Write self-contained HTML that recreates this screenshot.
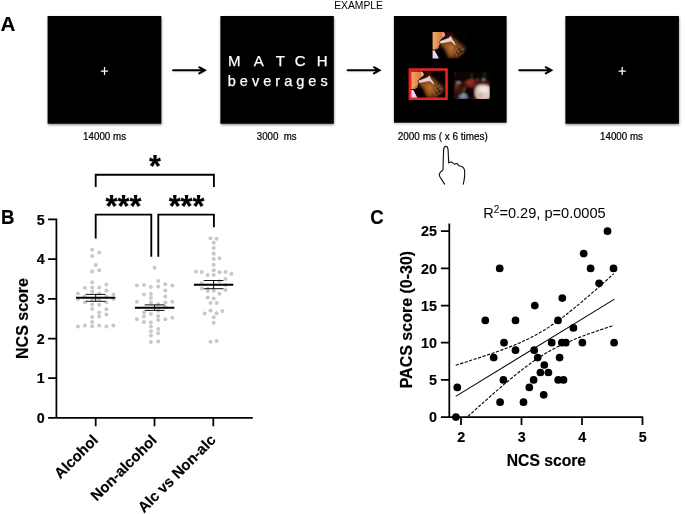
<!DOCTYPE html>
<html><head><meta charset="utf-8"><title>Figure</title>
<style>
html,body{margin:0;padding:0;background:#fff;}
svg{display:block;}
text{font-family:"Liberation Sans",Arial,Helvetica,sans-serif;}
.b{font-weight:bold;stroke:#000;stroke-width:0.18px;}
</style></head><body>
<svg width="685" height="514" viewBox="0 0 685 514">
<rect width="685" height="514" fill="#fff"/>
<defs>
<filter id="bl" x="-20%" y="-20%" width="140%" height="140%"><feGaussianBlur stdDeviation="0.85"/></filter>
<filter id="bs" x="-20%" y="-20%" width="140%" height="140%"><feGaussianBlur stdDeviation="0.4"/></filter>
<filter id="sh" x="-10%" y="-10%" width="120%" height="120%"><feGaussianBlur stdDeviation="0.9"/></filter>
<clipPath id="cb"><rect x="0" y="0" width="34" height="26.6"/></clipPath>
<linearGradient id="fg" x1="0" y1="0" x2="1" y2="0"><stop offset="0" stop-color="#f6b270"/><stop offset="0.45" stop-color="#e4924e"/><stop offset="1" stop-color="#c87038"/></linearGradient>
<linearGradient id="gg" x1="0" y1="0" x2="1" y2="1"><stop offset="0" stop-color="#84481a"/><stop offset="0.5" stop-color="#7c4018"/><stop offset="1" stop-color="#48220e"/></linearGradient>
<g id="beer">
<rect x="0" y="0" width="34" height="26.6" fill="#050101"/>
<g clip-path="url(#cb)">
<g filter="url(#bl)">
<polygon points="12,0 19,0 22,5 17,6 13,5" fill="#2c0e08"/>
<polygon points="7.6,9.9 18.5,4.8 23.5,7.6 33.6,15.7 32.9,18.8 30.5,22.4 25.1,26.6 15.7,26.6 15,24.3 11.8,17.3 8.3,13.8" fill="url(#gg)"/>
<polygon points="12,12 19,10.5 23,15 22.5,21 19,24 16.5,22.5 13.8,17" fill="#9c5a24"/>
<polygon points="16,13.5 19.5,13 21,17.5 18.5,20" fill="#b87030"/>
<polygon points="24.5,9.5 33,16 31,21 26.5,25.5 25,21 27,16" fill="#3a1a0c"/>
</g>
<g filter="url(#bs)">
<polygon points="-2,-2 11.1,-2 11.7,1 12.8,3.1 11.9,4.8 10,6.1 7.8,8 6.8,9.6 7.2,11.6 6.7,13.6 6,16.1 3.6,17.6 -2,17.6" fill="url(#fg)"/>
<polygon points="4.2,15.6 6.5,12.6 5.6,16.1 3.3,17.4 1.5,17.4" fill="#b46a36"/>
<polygon points="9.8,0.5 11.1,0 12.6,3.1 10.8,4.8 9.4,3.6" fill="#f0a090"/>
<polygon points="5.8,9.3 7.2,9 7,11 5.9,10.6" fill="#c04838"/>
<polygon points="7.3,9.4 11.8,7.6 16.1,6.1 18.3,4.2 19.5,7.2 22.2,10.8 23.2,14 21,11.8 18.6,9.6 11.8,10.8 7.8,11.6" fill="#eccad6"/>
<polygon points="-2,18.2 2.1,18.7 4,22 6,26.2 6,29 -2,29" fill="#eed2f6"/>
<path d="M24.5,12 L30,19 M23,15.5 L27.5,22.5 M28,14 L31.5,18.5 M21.5,19 L25,24.5" stroke="#b08858" stroke-width="0.6" fill="none"/>
<path d="M23,17 L29,13 M24.5,20.5 L31,16.5 M26,23.5 L31.5,20" stroke="#a07040" stroke-width="0.5" fill="none"/>
</g>
</g>
</g>
</defs>

<g id="panelA">
<text transform="translate(0.55,31.2) scale(1.07,1)" class="b" font-size="19.3">A</text>
<text x="334.2" y="9" font-size="10.7" textLength="48.8" lengthAdjust="spacingAndGlyphs" fill="#000">EXAMPLE</text>
<rect x="48.0" y="17.4" width="113.7" height="107.7" fill="#333" opacity="0.55" filter="url(#sh)"/>
<rect x="47.6" y="16" width="113.7" height="107.7" fill="#000"/>
<rect x="220.8" y="17.4" width="113.4" height="107.7" fill="#333" opacity="0.55" filter="url(#sh)"/>
<rect x="220.4" y="16" width="113.4" height="107.7" fill="#000"/>
<rect x="394.3" y="17.4" width="112.7" height="106.7" fill="#333" opacity="0.25" filter="url(#sh)"/>
<rect x="393.9" y="16" width="112.7" height="106.7" fill="#000"/>
<rect x="565.8" y="17.4" width="113.5" height="107.7" fill="#333" opacity="0.55" filter="url(#sh)"/>
<rect x="565.4" y="16" width="113.5" height="107.7" fill="#000"/>
<path d="M100.9,71.05 H108.1 M104.5,67 V75.1" stroke="#fff" stroke-width="1.25" fill="none"/>
<path d="M618.6,71.05 H625.8000000000001 M622.2,67 V75.1" stroke="#fff" stroke-width="1.25" fill="none"/>
<path d="M173.4,71 H204.9 M199.4,67.9 L205.20000000000002,71 L199.4,74.1" stroke="#888" stroke-width="1.7" fill="none" stroke-linecap="round" stroke-linejoin="miter" opacity="0.35" filter="url(#sh)"/>
<path d="M173,70.25 H204.4 M199.20000000000002,67.2 L204.9,70.3 L199.20000000000002,73.4" stroke="#000" stroke-width="1.9" fill="none" stroke-linecap="round" stroke-linejoin="miter"/>
<path d="M348.0,71 H379.6 M374.1,67.9 L379.90000000000003,71 L374.1,74.1" stroke="#888" stroke-width="1.7" fill="none" stroke-linecap="round" stroke-linejoin="miter" opacity="0.35" filter="url(#sh)"/>
<path d="M347.6,70.25 H379.1 M373.90000000000003,67.2 L379.6,70.3 L373.90000000000003,73.4" stroke="#000" stroke-width="1.9" fill="none" stroke-linecap="round" stroke-linejoin="miter"/>
<path d="M519.6999999999999,71 H551.4 M545.9,67.9 L551.6999999999999,71 L545.9,74.1" stroke="#888" stroke-width="1.7" fill="none" stroke-linecap="round" stroke-linejoin="miter" opacity="0.35" filter="url(#sh)"/>
<path d="M519.3,70.25 H550.9 M545.6999999999999,67.2 L551.4,70.3 L545.6999999999999,73.4" stroke="#000" stroke-width="1.9" fill="none" stroke-linecap="round" stroke-linejoin="miter"/>
<text y="66.1" font-size="15" fill="#fff" stroke="#fff" stroke-width="0.25" x="227.95 253.8 275.72 294.68 316.68">MATCH</text>
<text x="227.7" y="85.5" font-size="14.5" fill="#fff" stroke="#fff" stroke-width="0.25" textLength="100" lengthAdjust="spacing">beverages</text>
<text x="83.1" y="140.1" font-size="10.2" fill="#000" stroke="#000" stroke-width="0.22" textLength="43" lengthAdjust="spacingAndGlyphs">14000 ms</text>
<text x="256.8" y="140.1" font-size="10.2" fill="#000" stroke="#000" stroke-width="0.22" textLength="39.7" lengthAdjust="spacingAndGlyphs" xml:space="preserve">3000  ms</text>
<text x="397.8" y="140.1" font-size="10.2" fill="#000" stroke="#000" stroke-width="0.22" textLength="90" lengthAdjust="spacingAndGlyphs">2000 ms ( x 6 times)</text>
<text x="600" y="140.1" font-size="10.2" fill="#000" stroke="#000" stroke-width="0.22" textLength="43" lengthAdjust="spacingAndGlyphs">14000 ms</text>
<use href="#beer" x="432.6" y="31.9"/>
<use href="#beer" x="411.2" y="71.4"/>
<rect x="409.85" y="69.55" width="36.7" height="29.2" fill="none" stroke="#ee2222" stroke-width="2.5"/>
<g transform="translate(453.9,72)">
<clipPath id="cp"><rect width="35.9" height="27"/></clipPath>
<rect width="35.9" height="27" fill="#0e0303"/>
<g clip-path="url(#cp)"><g filter="url(#bl)">
<rect x="-2" y="8.5" width="40" height="22" fill="#2a0c0a"/>
<ellipse cx="4" cy="17" rx="5" ry="4" fill="#3e1410"/>
<ellipse cx="5" cy="11" rx="4" ry="2" fill="#38100e"/>
<ellipse cx="17.3" cy="11" rx="6" ry="4.2" fill="#7c2420"/>
<ellipse cx="16.5" cy="9.6" rx="4" ry="1.8" fill="#96302a"/>
<ellipse cx="28" cy="10.8" rx="8" ry="2.4" fill="#4a1612"/>
<ellipse cx="16" cy="20.5" rx="5" ry="5.5" fill="#0c0202"/>
<rect x="21.3" y="12.8" width="15.5" height="15" rx="5.5" fill="#e2ccc2"/>
<ellipse cx="30" cy="17.5" rx="4.4" ry="3.2" fill="#f2e6e0"/>
<ellipse cx="26" cy="23" rx="3" ry="2.6" fill="#cdb4ac"/>
<ellipse cx="9.3" cy="24.8" rx="4.4" ry="2.4" fill="#767e9e"/>
<ellipse cx="9.8" cy="22.8" rx="2" ry="1.3" fill="#98b0c0"/>
<path d="M11,15 L9.5,20" stroke="#a08848" stroke-width="0.7"/>
<rect x="17.3" y="1.5" width="1" height="5" fill="#24703a"/>
<rect x="30.2" y="0.6" width="1" height="4" fill="#24703a"/>
<rect x="28.6" y="6.3" width="2.4" height="1.6" fill="#e8e0a0"/>
<rect x="23" y="6.5" width="1.2" height="1.4" fill="#c09050"/>
<rect x="3" y="10" width="3" height="1.2" fill="#e0d0d0"/>
<rect x="2.5" y="12" width="1.2" height="4" fill="#50705a"/>
<rect x="0.3" y="0.5" width="1.6" height="1.4" fill="#555"/>
</g></g></g>
<path d="M444.6,184.1 L439.6,176.2 Q438.6,174.2 440.4,172.2 L443,169.8 L443.6,150 Q443.9,146.3 445.8,146.3 Q447.8,146.4 448.1,150 L448.7,162.9 Q450.5,161.6 452.3,162.3 Q453.6,164.2 454.5,164.3 Q455.8,163.2 457.1,163.6 Q458.5,165.6 459.6,166 Q461,165.8 462,166.6 Q464.2,168 464.5,170 Q465.3,176 463.3,184.1" stroke="#111" stroke-width="1.15" fill="none" stroke-linecap="round" stroke-linejoin="round"/>
</g>
<g id="panelB">
<text transform="translate(1.1,223.75) scale(0.965,1)" class="b" font-size="19.3">B</text>
<path d="M56.4,218.59999999999997 V417.9 M48.099999999999994,417.9 H252.8 M48.099999999999994,378.2 H56.4 M48.099999999999994,338.5 H56.4 M48.099999999999994,298.8 H56.4 M48.099999999999994,259.1 H56.4 M48.099999999999994,219.4 H56.4 M95.7,417.9 V426.29999999999995 M154.5,417.9 V426.29999999999995 M213.3,417.9 V426.29999999999995 " stroke="#000" stroke-width="1.75" fill="none"/>
<text transform="translate(44.7,423.1) scale(0.93,1)" class="b" font-size="15.4" text-anchor="end">0</text>
<text transform="translate(44.7,383.4) scale(0.93,1)" class="b" font-size="15.4" text-anchor="end">1</text>
<text transform="translate(44.7,343.7) scale(0.93,1)" class="b" font-size="15.4" text-anchor="end">2</text>
<text transform="translate(44.7,304.0) scale(0.93,1)" class="b" font-size="15.4" text-anchor="end">3</text>
<text transform="translate(44.7,264.3) scale(0.93,1)" class="b" font-size="15.4" text-anchor="end">4</text>
<text transform="translate(44.7,224.6) scale(0.93,1)" class="b" font-size="15.4" text-anchor="end">5</text>
<text transform="translate(27.8,318.5) rotate(-90)" class="b" font-size="16" text-anchor="middle">NCS score</text>
<text transform="translate(98.9,441.0) rotate(-45)" class="b" font-size="14.9" text-anchor="end">Alcohol</text>
<text transform="translate(157.7,441.0) rotate(-45)" class="b" font-size="14.9" text-anchor="end">Non-alcohol</text>
<text transform="translate(216.5,441.0) rotate(-45)" class="b" font-size="14.9" text-anchor="end">Alc vs Non-alc</text>
<g fill="#c8c8c8">
<circle cx="92.2" cy="249.7" r="2"/>
<circle cx="99.2" cy="252.5" r="2"/>
<circle cx="92.2" cy="256.1" r="2"/>
<circle cx="95.7" cy="265.0" r="2"/>
<circle cx="99.2" cy="270.2" r="2"/>
<circle cx="92.2" cy="271.5" r="2"/>
<circle cx="92.2" cy="282.3" r="2"/>
<circle cx="106.4" cy="284.4" r="2"/>
<circle cx="84.9" cy="287.9" r="2"/>
<circle cx="92.2" cy="287.6" r="2"/>
<circle cx="99.2" cy="287.5" r="2"/>
<circle cx="92.2" cy="291.4" r="2"/>
<circle cx="106.4" cy="290.6" r="2"/>
<circle cx="77.9" cy="293.6" r="2"/>
<circle cx="99.2" cy="293.6" r="2"/>
<circle cx="113.4" cy="294.5" r="2"/>
<circle cx="84.9" cy="296.3" r="2"/>
<circle cx="106.4" cy="296.7" r="2"/>
<circle cx="77.9" cy="299" r="2"/>
<circle cx="113.4" cy="299" r="2"/>
<circle cx="92.2" cy="299.6" r="2"/>
<circle cx="99.2" cy="299.6" r="2"/>
<circle cx="84.9" cy="302.3" r="2"/>
<circle cx="106.4" cy="302.3" r="2"/>
<circle cx="92.2" cy="304.6" r="2"/>
<circle cx="99.2" cy="304.8" r="2"/>
<circle cx="92.2" cy="308.9" r="2"/>
<circle cx="106.4" cy="309.2" r="2"/>
<circle cx="99.2" cy="312.4" r="2"/>
<circle cx="106.4" cy="314.4" r="2"/>
<circle cx="99.2" cy="316.5" r="2"/>
<circle cx="92.2" cy="317.1" r="2"/>
<circle cx="92.2" cy="322" r="2"/>
<circle cx="77.9" cy="326.5" r="2"/>
<circle cx="84.9" cy="325.5" r="2"/>
<circle cx="92.2" cy="326.2" r="2"/>
<circle cx="99.2" cy="325.5" r="2"/>
<circle cx="106.4" cy="326.5" r="2"/>
<circle cx="113.4" cy="325.5" r="2"/>
<circle cx="154.6" cy="267.7" r="2"/>
<circle cx="158.2" cy="281.1" r="2"/>
<circle cx="136.9" cy="285.4" r="2"/>
<circle cx="144" cy="285" r="2"/>
<circle cx="150.9" cy="286.9" r="2"/>
<circle cx="158.2" cy="286.5" r="2"/>
<circle cx="165.3" cy="284.3" r="2"/>
<circle cx="172.4" cy="285.4" r="2"/>
<circle cx="165.3" cy="290.6" r="2"/>
<circle cx="144" cy="294.4" r="2"/>
<circle cx="150.9" cy="293.9" r="2"/>
<circle cx="165.3" cy="296.4" r="2"/>
<circle cx="150.9" cy="297.9" r="2"/>
<circle cx="136.9" cy="301.7" r="2"/>
<circle cx="172.4" cy="301.7" r="2"/>
<circle cx="150.9" cy="302.5" r="2"/>
<circle cx="165.3" cy="302.5" r="2"/>
<circle cx="158.2" cy="304" r="2"/>
<circle cx="144" cy="312.5" r="2"/>
<circle cx="150.9" cy="313.9" r="2"/>
<circle cx="158.2" cy="310.8" r="2"/>
<circle cx="165.3" cy="306.7" r="2"/>
<circle cx="144" cy="316.6" r="2"/>
<circle cx="158.2" cy="316" r="2"/>
<circle cx="136.9" cy="319.2" r="2"/>
<circle cx="165.3" cy="319.2" r="2"/>
<circle cx="172.4" cy="317.8" r="2"/>
<circle cx="144" cy="321.9" r="2"/>
<circle cx="158.2" cy="320.1" r="2"/>
<circle cx="150.9" cy="322.4" r="2"/>
<circle cx="150.9" cy="326.5" r="2"/>
<circle cx="158.2" cy="328.9" r="2"/>
<circle cx="150.9" cy="331.2" r="2"/>
<circle cx="158.2" cy="333.2" r="2"/>
<circle cx="150.9" cy="335.6" r="2"/>
<circle cx="150.9" cy="341.9" r="2"/>
<circle cx="158.2" cy="341.4" r="2"/>
<circle cx="210.5" cy="238.2" r="2"/>
<circle cx="216.6" cy="238.8" r="2"/>
<circle cx="213.7" cy="242.7" r="2"/>
<circle cx="213.7" cy="248" r="2"/>
<circle cx="213.7" cy="253.6" r="2"/>
<circle cx="213.7" cy="259.1" r="2"/>
<circle cx="219.5" cy="258.3" r="2"/>
<circle cx="213.7" cy="264.8" r="2"/>
<circle cx="213.7" cy="270.3" r="2"/>
<circle cx="196" cy="271.5" r="2"/>
<circle cx="201.8" cy="271.9" r="2"/>
<circle cx="219.5" cy="272.2" r="2"/>
<circle cx="225.5" cy="271.9" r="2"/>
<circle cx="231.4" cy="273.8" r="2"/>
<circle cx="207.7" cy="274.9" r="2"/>
<circle cx="213.7" cy="274.9" r="2"/>
<circle cx="225.5" cy="278.9" r="2"/>
<circle cx="219.5" cy="281.3" r="2"/>
<circle cx="201.8" cy="283.2" r="2"/>
<circle cx="225.5" cy="285" r="2"/>
<circle cx="201.8" cy="288.4" r="2"/>
<circle cx="207.7" cy="288.7" r="2"/>
<circle cx="207.7" cy="291" r="2"/>
<circle cx="213.7" cy="290.8" r="2"/>
<circle cx="225.5" cy="290.1" r="2"/>
<circle cx="219.5" cy="293.7" r="2"/>
<circle cx="207.7" cy="297.6" r="2"/>
<circle cx="213.7" cy="298.4" r="2"/>
<circle cx="210.5" cy="302.9" r="2"/>
<circle cx="216.6" cy="302.9" r="2"/>
<circle cx="210.5" cy="310.4" r="2"/>
<circle cx="222.3" cy="310.9" r="2"/>
<circle cx="204.7" cy="313.4" r="2"/>
<circle cx="216.6" cy="313.2" r="2"/>
<circle cx="213.7" cy="317.2" r="2"/>
<circle cx="213.7" cy="322.8" r="2"/>
<circle cx="210.5" cy="341.8" r="2"/>
<circle cx="216.6" cy="341.1" r="2"/>
</g>
<path d="M76.1,297.8 H115.30000000000001" stroke="#000" stroke-width="1.9" fill="none"/>
<path d="M85.9,294.4 H105.5 M85.9,301.3 H105.5 M95.7,294.4 V301.3" stroke="#000" stroke-width="0.95" fill="none"/>
<path d="M134.9,307.8 H174.29999999999998" stroke="#000" stroke-width="1.9" fill="none"/>
<path d="M144.7,304.9 H164.5 M144.7,310.4 H164.5 M154.6,304.9 V310.4" stroke="#000" stroke-width="0.95" fill="none"/>
<path d="M193.9,284.7 H233.29999999999998" stroke="#000" stroke-width="1.9" fill="none"/>
<path d="M203.7,280.5 H223.5 M203.7,288.7 H223.5 M213.6,280.5 V288.7" stroke="#000" stroke-width="0.95" fill="none"/>
<path d="M95.7,187 V174.7 H213.9 V187 M95.7,238.5 V214.6 H151.3 V256.7 M158.3,256.7 V214.6 H213.9 V227.2" stroke="#000" stroke-width="1.85" fill="none" stroke-linejoin="miter"/>
<text x="155" y="177.2" class="b" font-size="30.7" text-anchor="middle">*</text>
<text x="123.5" y="216.7" class="b" font-size="30.7" text-anchor="middle">***</text>
<text x="186.6" y="216.7" class="b" font-size="30.7" text-anchor="middle">***</text>
</g>
<g id="panelC">
<text transform="translate(370.3,223.7) scale(0.965,1)" class="b" font-size="19.3">C</text>
<text x="483.3" y="217.8" font-size="14.6" fill="#000">R<tspan font-size="10" dy="-5.2">2</tspan><tspan dy="5.2">=0.29, p=0.0005</tspan></text>
<path d="M449.3,223.6 V417.1 M440.90000000000003,417.1 H643.2 M440.90000000000003,379.9 H449.3 M440.90000000000003,342.7 H449.3 M440.90000000000003,305.6 H449.3 M440.90000000000003,268.4 H449.3 M440.90000000000003,231.2 H449.3 M461.0,417.1 V425.1 M521.5,417.1 V425.1 M582.0,417.1 V425.1 M642.5,417.1 V425.1 " stroke="#000" stroke-width="1.75" fill="none"/>
<text transform="translate(437,422.3) scale(0.93,1)" class="b" font-size="15.4" text-anchor="end">0</text>
<text transform="translate(437,385.1) scale(0.93,1)" class="b" font-size="15.4" text-anchor="end">5</text>
<text transform="translate(437,347.9) scale(0.93,1)" class="b" font-size="15.4" text-anchor="end">10</text>
<text transform="translate(437,310.8) scale(0.93,1)" class="b" font-size="15.4" text-anchor="end">15</text>
<text transform="translate(437,273.6) scale(0.93,1)" class="b" font-size="15.4" text-anchor="end">20</text>
<text transform="translate(437,236.4) scale(0.93,1)" class="b" font-size="15.4" text-anchor="end">25</text>
<text transform="translate(461.2,441.9) scale(0.93,1)" class="b" font-size="15.4" text-anchor="middle">2</text>
<text transform="translate(521.7,441.9) scale(0.93,1)" class="b" font-size="15.4" text-anchor="middle">3</text>
<text transform="translate(582.2,441.9) scale(0.93,1)" class="b" font-size="15.4" text-anchor="middle">4</text>
<text transform="translate(642.7,441.9) scale(0.93,1)" class="b" font-size="15.4" text-anchor="middle">5</text>
<text transform="translate(546.4,466) scale(0.98,1)" class="b" font-size="16" text-anchor="middle">NCS score</text>
<text transform="translate(412.1,319.6) rotate(-90)" class="b" font-size="16" text-anchor="middle">PACS score (0-30)</text>
<circle cx="455.9" cy="417.1" r="3.85" fill="#000"/>
<circle cx="457.3" cy="387.4" r="3.85" fill="#000"/>
<circle cx="485.3" cy="320.4" r="3.85" fill="#000"/>
<circle cx="515.5" cy="320.4" r="3.85" fill="#000"/>
<circle cx="499.7" cy="268.4" r="3.85" fill="#000"/>
<circle cx="534.8" cy="305.6" r="3.85" fill="#000"/>
<circle cx="504" cy="342.7" r="3.85" fill="#000"/>
<circle cx="515.5" cy="350.2" r="3.85" fill="#000"/>
<circle cx="493.7" cy="357.6" r="3.85" fill="#000"/>
<circle cx="534.2" cy="350.2" r="3.85" fill="#000"/>
<circle cx="551.7" cy="342.7" r="3.85" fill="#000"/>
<circle cx="537.7" cy="357.6" r="3.85" fill="#000"/>
<circle cx="544.3" cy="365.0" r="3.85" fill="#000"/>
<circle cx="540.4" cy="372.5" r="3.85" fill="#000"/>
<circle cx="548.4" cy="372.5" r="3.85" fill="#000"/>
<circle cx="503.4" cy="379.9" r="3.85" fill="#000"/>
<circle cx="533.6" cy="379.9" r="3.85" fill="#000"/>
<circle cx="529.3" cy="387.4" r="3.85" fill="#000"/>
<circle cx="543.7" cy="394.8" r="3.85" fill="#000"/>
<circle cx="500.1" cy="402.2" r="3.85" fill="#000"/>
<circle cx="523.5" cy="402.2" r="3.85" fill="#000"/>
<circle cx="607.5" cy="231.2" r="3.85" fill="#000"/>
<circle cx="583.7" cy="253.5" r="3.85" fill="#000"/>
<circle cx="590.6" cy="268.4" r="3.85" fill="#000"/>
<circle cx="613.5" cy="268.4" r="3.85" fill="#000"/>
<circle cx="599.1" cy="283.3" r="3.85" fill="#000"/>
<circle cx="562.3" cy="298.1" r="3.85" fill="#000"/>
<circle cx="558" cy="320.4" r="3.85" fill="#000"/>
<circle cx="573.4" cy="327.9" r="3.85" fill="#000"/>
<circle cx="561.8" cy="342.7" r="3.85" fill="#000"/>
<circle cx="565.8" cy="342.7" r="3.85" fill="#000"/>
<circle cx="582.4" cy="342.7" r="3.85" fill="#000"/>
<circle cx="614.1" cy="342.7" r="3.85" fill="#000"/>
<circle cx="559.6" cy="357.6" r="3.85" fill="#000"/>
<circle cx="558.2" cy="379.9" r="3.85" fill="#000"/>
<circle cx="563.5" cy="379.9" r="3.85" fill="#000"/>
<path d="M455.7,396.4 L614.5,299.1" stroke="#000" stroke-width="1.05" fill="none"/>
<path d="M455.7,365.3 L459.8,364.0 L463.8,362.7 L467.9,361.4 L471.9,360.1 L476.0,358.8 L480.0,357.5 L484.1,356.1 L488.1,354.8 L492.2,353.4 L496.2,351.9 L500.3,350.5 L504.3,349.0 L508.4,347.4 L512.5,345.8 L516.5,344.2 L520.6,342.4 L524.6,340.6 L528.7,338.7 L532.7,336.6 L536.8,334.4 L540.8,332.1 L544.9,329.7 L548.9,327.1 L553.0,324.3 L557.0,321.5 L561.1,318.5 L565.2,315.4 L569.2,312.2 L573.3,308.9 L577.3,305.6 L581.4,302.2 L585.4,298.7 L589.5,295.3 L593.5,291.7 L597.6,288.2 L601.6,284.6 L605.7,281.0 L609.7,277.3 L613.8,273.7" stroke="#000" stroke-width="1.1" fill="none" stroke-dasharray="3.2,1.5"/>
<path d="M467.9,416.4 L471.9,412.8 L476.0,409.1 L480.0,405.5 L484.1,401.9 L488.1,398.3 L492.2,394.7 L496.2,391.2 L500.3,387.7 L504.3,384.2 L508.4,380.8 L512.5,377.4 L516.5,374.1 L520.6,370.9 L524.6,367.8 L528.7,364.7 L532.7,361.8 L536.8,359.0 L540.8,356.3 L544.9,353.8 L548.9,351.5 L553.0,349.2 L557.0,347.1 L561.1,345.2 L565.2,343.3 L569.2,341.5 L573.3,339.8 L577.3,338.2 L581.4,336.6 L585.4,335.1 L589.5,333.6 L593.5,332.2 L597.6,330.8 L601.6,329.4 L605.7,328.1 L609.7,326.7 L613.8,325.4" stroke="#000" stroke-width="1.1" fill="none" stroke-dasharray="3.2,1.5"/>
</g>
</svg></body></html>
